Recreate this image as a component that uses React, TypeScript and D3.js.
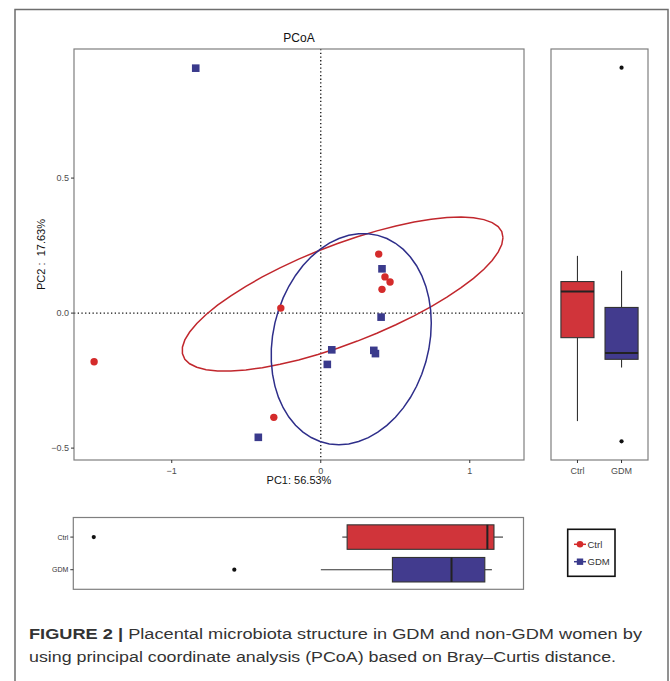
import React from "react";
import * as d3 from "d3";

// ---- data ----
const groups = ["Ctrl", "GDM"];
const ctrlPC1 = [-1.521, -0.268, 0.389, 0.431, 0.465, 0.411, -0.315];
const ctrlPC2 = [-0.18, 0.0185, 0.2185, 0.134, 0.115, 0.088, -0.386];
const gdmPC1 = [-0.839, 0.411, 0.405, 0.074, 0.356, 0.367, 0.044, -0.419];
const gdmPC2 = [0.907, 0.164, -0.015, -0.136, -0.138, -0.15, -0.19, -0.46];
const xTicks = [-1, 0, 1];
const yTicks = [-0.5, 0, 0.5];
const mainXDomain = [-1.656, 1.364];
const mainYDomain = [-0.544, 0.978];
const ellipseLevel = 0.8;
const titleText = "PCoA";
const xLabel = "PC1: 56.53%";
const yLabel = "PC2 :  17.63%";
const captionBold = "FIGURE 2 |";
const caption1 = " Placental microbiota structure in GDM and non-GDM women by";
const caption2 = "using principal coordinate analysis (PCoA) based on Bray\u2013Curtis distance.";

const colors: Record<string, string> = { Ctrl: "#D0343A", GDM: "#423B8E" };
const ptColors: Record<string, string> = { Ctrl: "#D42B2B", GDM: "#3A3A8C" };
const ellColors: Record<string, string> = { Ctrl: "#C1272D", GDM: "#2E2E8A" };

const FONT = "'Liberation Sans', Arial, Helvetica, sans-serif";

type P = [number, number];

// MASS::cov.trob
function covTrob(pts: P[], nu = 5, maxit = 25, tol = 0.01) {
  const n = pts.length;
  const p = 2;
  let loc: P = [d3.mean(pts, (d) => d[0])!, d3.mean(pts, (d) => d[1])!];
  let w = pts.map(() => 1);
  let X: P[] = [];
  for (let it = 0; it < maxit; it++) {
    const w0 = w.slice();
    X = pts.map((d) => [d[0] - loc[0], d[1] - loc[1]] as P);
    const sw = d3.sum(w);
    let s11 = 0, s12 = 0, s22 = 0;
    X.forEach((x, i) => {
      const f = w[i] / sw;
      s11 += f * x[0] * x[0];
      s12 += f * x[0] * x[1];
      s22 += f * x[1] * x[1];
    });
    const det = s11 * s22 - s12 * s12;
    const i11 = s22 / det, i12 = -s12 / det, i22 = s11 / det;
    const Q = X.map((x) => x[0] * x[0] * i11 + 2 * x[0] * x[1] * i12 + x[1] * x[1] * i22);
    w = Q.map((q) => (nu + p) / (nu + q));
    const sw2 = d3.sum(w);
    loc = [d3.sum(pts, (d, i) => w[i] * d[0]) / sw2, d3.sum(pts, (d, i) => w[i] * d[1]) / sw2];
    if (w.every((v, i) => Math.abs(v - w0[i]) < tol)) break;
  }
  let c11 = 0, c12 = 0, c22 = 0;
  X.forEach((x, i) => {
    c11 += w[i] * x[0] * x[0];
    c12 += w[i] * x[0] * x[1];
    c22 += w[i] * x[1] * x[1];
  });
  return { center: loc, cov: [c11 / n, c12 / n, c22 / n] };
}

// ggplot2 stat_ellipse(type = "t")
function tEllipse(pts: P[], level: number, segments = 51): P[] {
  const { center, cov } = covTrob(pts);
  const dfn = 2;
  const dfd = pts.length - 1;
  const qf = (dfd / 2) * (Math.pow(1 - level, -2 / dfd) - 1);
  const radius = Math.sqrt(dfn * qf);
  const a = Math.sqrt(cov[0]);
  const b = cov[1] / a;
  const c = Math.sqrt(cov[2] - b * b);
  const out: P[] = [];
  for (let i = 0; i <= segments; i++) {
    const t = (i * 2 * Math.PI) / segments;
    const u = Math.cos(t), v = Math.sin(t);
    out.push([center[0] + radius * u * a, center[1] + radius * (u * b + v * c)]);
  }
  return out;
}

function boxStats(vals: number[]) {
  const s = vals.slice().sort((a, b) => a - b);
  const q1 = d3.quantile(s, 0.25)!;
  const med = d3.quantile(s, 0.5)!;
  const q3 = d3.quantile(s, 0.75)!;
  const iqr = q3 - q1;
  const lo = q1 - 1.5 * iqr, hi = q3 + 1.5 * iqr;
  const inside = s.filter((v) => v >= lo && v <= hi);
  return { q1, med, q3, wLo: d3.min(inside)!, wHi: d3.max(inside)!, out: s.filter((v) => v < lo || v > hi) };
}

const expand = (ext: number[]) => {
  const r = ext[1] - ext[0];
  return [ext[0] - 0.05 * r, ext[1] + 0.05 * r];
};

export default function App() {
  const main = { l: 74, r: 524, t: 49, b: 460 };
  const side = { l: 551, r: 648, t: 49, b: 460 };
  const bot = { l: 73.3, r: 523.5, t: 517.5, b: 589.3 };

  const data: Record<string, { x: number[]; y: number[] }> = {
    Ctrl: { x: ctrlPC1, y: ctrlPC2 },
    GDM: { x: gdmPC1, y: gdmPC2 },
  };

  const x = d3.scaleLinear().domain(mainXDomain).range([main.l, main.r]);
  const y = d3.scaleLinear().domain(mainYDomain).range([main.b, main.t]);

  const allX = [...ctrlPC1, ...gdmPC1];
  const allY = [...ctrlPC2, ...gdmPC2];
  const bx = d3.scaleLinear().domain(expand(d3.extent(allX) as number[])).range([bot.l, bot.r]);
  const sy = d3.scaleLinear().domain(expand(d3.extent(allY) as number[])).range([side.b, side.t]);

  const sideBand = d3.scaleLinear().domain([0.4, 2.6]).range([side.l, side.r]);
  const botBand = d3.scaleLinear().domain([0.4, 2.6]).range([bot.b, bot.t]);
  const botPos: Record<string, number> = { Ctrl: 2, GDM: 1 };
  const sidePos: Record<string, number> = { Ctrl: 1, GDM: 2 };

  const line = d3.line<P>().x((d) => x(d[0])).y((d) => y(d[1]));

  const boxW = 0.75;
  const tickCol = "#333";
  const lblCol = "#4D4D4D";
  const panelStroke = "#7F7F7F";

  return (
    <svg width={670} height={681} style={{ position: "absolute", left: 0, top: 0, background: "#fff" }} fontFamily={FONT}>
      <rect x={0} y={0} width={670} height={681} fill="#fff" />
      <rect x={15} y={9.5} width={653} height={700} fill="none" stroke="#6E6E6E" strokeWidth={1.5} />

      <text x={(main.l + main.r) / 2} y={41.5} textAnchor="middle" fontSize={12} fill="#111">{titleText}</text>

      <defs>
        <clipPath id="mainclip">
          <rect x={main.l} y={main.t} width={main.r - main.l} height={main.b - main.t} />
        </clipPath>
      </defs>
      <line x1={x(0)} x2={x(0)} y1={main.t} y2={main.b} stroke="#111" strokeWidth={1.3} strokeDasharray="1.3 2.4" />
      <line x1={main.l} x2={main.r} y1={y(0)} y2={y(0)} stroke="#111" strokeWidth={1.3} strokeDasharray="1.3 2.4" />
      <g clipPath="url(#mainclip)">
        {groups.map((g) => {
          const pts: P[] = data[g].x.map((v, i) => [v, data[g].y[i]]);
          return <path key={g} d={line(tEllipse(pts, ellipseLevel))!} fill="none" stroke={ellColors[g]} strokeWidth={1.5} />;
        })}
        {ctrlPC1.map((v, i) => (
          <circle key={"c" + i} cx={x(v)} cy={y(ctrlPC2[i])} r={3.7} fill={ptColors.Ctrl} />
        ))}
        {gdmPC1.map((v, i) => (
          <rect key={"g" + i} x={x(v) - 3.8} y={y(gdmPC2[i]) - 3.8} width={7.6} height={7.6} fill={ptColors.GDM} />
        ))}
      </g>
      <rect x={main.l} y={main.t} width={main.r - main.l} height={main.b - main.t} fill="none" stroke={panelStroke} strokeWidth={1.2} />
      {yTicks.map((t) => (
        <g key={"yt" + t}>
          <line x1={main.l - 3} x2={main.l} y1={y(t)} y2={y(t)} stroke={tickCol} strokeWidth={1} />
          <text x={main.l - 5} y={y(t) + 3.2} textAnchor="end" fontSize={9} fill={lblCol}>
            {t === 0 ? "0.0" : d3.format(".1f")(t).replace("-", "\u2212")}
          </text>
        </g>
      ))}
      {xTicks.map((t) => (
        <g key={"xt" + t}>
          <line x1={x(t)} x2={x(t)} y1={main.b} y2={main.b + 3} stroke={tickCol} strokeWidth={1} />
          <text x={x(t)} y={main.b + 13.5} textAnchor="middle" fontSize={9} fill={lblCol}>
            {String(t).replace("-", "\u2212")}
          </text>
        </g>
      ))}
      <text x={(main.l + main.r) / 2} y={484} textAnchor="middle" fontSize={11} fill="#111">{xLabel}</text>
      <text transform={`translate(45,${(main.t + main.b) / 2}) rotate(-90)`} textAnchor="middle" fontSize={11} fill="#111" style={{ whiteSpace: "pre" }}>{yLabel}</text>

      {groups.map((g) => {
        const s = boxStats(data[g].y);
        const cx = sideBand(sidePos[g]);
        const hw = (sideBand(1 + boxW) - sideBand(1)) / 2;
        return (
          <g key={"sb" + g}>
            <line x1={cx} x2={cx} y1={sy(s.wHi)} y2={sy(s.q3)} stroke={tickCol} strokeWidth={1.1} />
            <line x1={cx} x2={cx} y1={sy(s.q1)} y2={sy(s.wLo)} stroke={tickCol} strokeWidth={1.1} />
            <rect x={cx - hw} y={sy(s.q3)} width={hw * 2} height={sy(s.q1) - sy(s.q3)} fill={colors[g]} stroke="#333" strokeWidth={1.1} />
            <line x1={cx - hw} x2={cx + hw} y1={sy(s.med)} y2={sy(s.med)} stroke="#222" strokeWidth={2} />
            {s.out.map((o, i) => (
              <circle key={i} cx={cx} cy={sy(o)} r={2.1} fill="#111" />
            ))}
          </g>
        );
      })}
      <rect x={side.l} y={side.t} width={side.r - side.l} height={side.b - side.t} fill="none" stroke={panelStroke} strokeWidth={1.2} />
      {groups.map((g) => (
        <g key={"sl" + g}>
          <line x1={sideBand(sidePos[g])} x2={sideBand(sidePos[g])} y1={side.b} y2={side.b + 3} stroke={tickCol} />
          <text x={sideBand(sidePos[g])} y={side.b + 14} textAnchor="middle" fontSize={9} fill={lblCol}>{g}</text>
        </g>
      ))}

      {groups.map((g) => {
        const s = boxStats(data[g].x);
        const cy = botBand(botPos[g]);
        const hh = (botBand(1) - botBand(1 + boxW)) / 2;
        return (
          <g key={"bb" + g}>
            <line y1={cy} y2={cy} x1={bx(s.wLo)} x2={bx(s.q1)} stroke={tickCol} strokeWidth={1.1} />
            <line y1={cy} y2={cy} x1={bx(s.q3)} x2={bx(s.wHi)} stroke={tickCol} strokeWidth={1.1} />
            <rect x={bx(s.q1)} y={cy - hh} width={bx(s.q3) - bx(s.q1)} height={hh * 2} fill={colors[g]} stroke="#333" strokeWidth={1.1} />
            <line y1={cy - hh} y2={cy + hh} x1={bx(s.med)} x2={bx(s.med)} stroke="#222" strokeWidth={2} />
            {s.out.map((o, i) => (
              <circle key={i} cx={bx(o)} cy={cy} r={2.1} fill="#111" />
            ))}
          </g>
        );
      })}
      <rect x={bot.l} y={bot.t} width={bot.r - bot.l} height={bot.b - bot.t} fill="none" stroke={panelStroke} strokeWidth={1.2} />
      {groups.map((g) => (
        <g key={"bl" + g}>
          <line x1={bot.l - 3} x2={bot.l} y1={botBand(botPos[g])} y2={botBand(botPos[g])} stroke={tickCol} />
          <text x={bot.l - 5} y={botBand(botPos[g]) + 2.5} textAnchor="end" fontSize={7} fill="#333">{g}</text>
        </g>
      ))}

      <rect x={567.7} y={529.3} width={47.3} height={47} fill="#fff" stroke="#111" strokeWidth={1.6} />
      {groups.map((g, i) => {
        const ly = 544.3 + i * 17.4;
        return (
          <g key={"lg" + g}>
            <line x1={574} x2={586} y1={ly} y2={ly} stroke={ptColors[g]} strokeWidth={1.5} />
            {g === "Ctrl" ? (
              <circle cx={580} cy={ly} r={3.3} fill={ptColors[g]} />
            ) : (
              <rect x={576.8} y={ly - 3.2} width={6.4} height={6.4} fill={ptColors[g]} />
            )}
            <text x={587.5} y={ly + 3.4} fontSize={9.5} fill="#333">{g}</text>
          </g>
        );
      })}

      <text x={29} y={639} fontSize={15.5} fill="#333" textLength={613} lengthAdjust="spacingAndGlyphs">
        <tspan fontWeight="bold">{captionBold}</tspan>
        <tspan>{caption1}</tspan>
      </text>
      <text x={29} y={661.5} fontSize={15.5} fill="#333" textLength={587} lengthAdjust="spacingAndGlyphs">{caption2}</text>
    </svg>
  );
}
